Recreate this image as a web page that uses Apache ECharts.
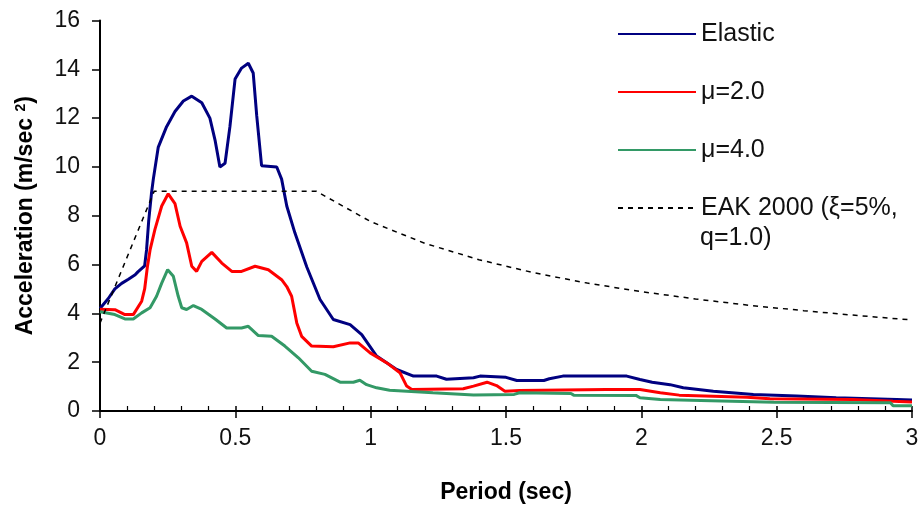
<!DOCTYPE html>
<html>
<head>
<meta charset="utf-8">
<script src="https://cdn.jsdelivr.net/npm/echarts@6/dist/echarts.min.js"></script>
<style>
  html, body { margin: 0; padding: 0; background: #fff; }
  #chart { width: 919px; height: 507px; }
</style>
</head>
<body>
<div id="chart"></div>
<script>
// period (s) / acceleration (m/sec2) pairs
var elastic = [
  [0, 4.2], [0.03, 4.6], [0.055, 5.0], [0.08, 5.23], [0.105, 5.4], [0.13, 5.58],
  [0.14, 5.7], [0.165, 5.95], [0.172, 6.6], [0.18, 7.8], [0.19, 8.9], [0.197, 9.5],
  [0.215, 10.8], [0.246, 11.65], [0.277, 12.27], [0.308, 12.7], [0.339, 12.9],
  [0.376, 12.63], [0.406, 12.0], [0.425, 11.1], [0.443, 10.0], [0.462, 10.15],
  [0.48, 11.65], [0.499, 13.6], [0.523, 14.05], [0.548, 14.25], [0.566, 13.85],
  [0.579, 12.1], [0.597, 10.05], [0.653, 10.0], [0.671, 9.5], [0.69, 8.4],
  [0.72, 7.3], [0.764, 5.9], [0.813, 4.57], [0.862, 3.75], [0.924, 3.54],
  [0.967, 3.13], [1.022, 2.25], [1.096, 1.7], [1.158, 1.43], [1.244, 1.43],
  [1.28, 1.3], [1.38, 1.36], [1.404, 1.43], [1.5, 1.38], [1.54, 1.25],
  [1.64, 1.25], [1.66, 1.32], [1.71, 1.43], [1.946, 1.43], [1.995, 1.29],
  [2.04, 1.18], [2.106, 1.08], [2.155, 0.95], [2.266, 0.81], [2.414, 0.68],
  [2.574, 0.61], [2.72, 0.54], [2.943, 0.47], [3.0, 0.45]
]
var mu2 = [
  [0, 4.17], [0.055, 4.15], [0.092, 3.95], [0.123, 3.95], [0.154, 4.5],
  [0.165, 5.0], [0.175, 5.9], [0.185, 6.6], [0.203, 7.44], [0.228, 8.4],
  [0.252, 8.9], [0.277, 8.5], [0.296, 7.57], [0.32, 6.89], [0.339, 5.93],
  [0.357, 5.72], [0.376, 6.13], [0.413, 6.5], [0.45, 6.06], [0.487, 5.72],
  [0.523, 5.72], [0.573, 5.93], [0.622, 5.79], [0.671, 5.38], [0.69, 5.1],
  [0.708, 4.7], [0.727, 3.61], [0.745, 3.06], [0.782, 2.66], [0.862, 2.63],
  [0.924, 2.79], [0.954, 2.79], [0.998, 2.38], [1.06, 1.97], [1.108, 1.57],
  [1.133, 1.02], [1.152, 0.88], [1.342, 0.91], [1.38, 1.02], [1.43, 1.18],
  [1.465, 1.04], [1.496, 0.81], [1.55, 0.84], [1.87, 0.88], [1.995, 0.88],
  [2.07, 0.75], [2.14, 0.65], [2.39, 0.56], [2.475, 0.5], [2.78, 0.47],
  [2.93, 0.4], [3.0, 0.37]
]
var mu4 = [
  [0, 4.07], [0.055, 3.95], [0.092, 3.77], [0.123, 3.77], [0.154, 4.02],
  [0.185, 4.23], [0.209, 4.7], [0.228, 5.24], [0.25, 5.79], [0.271, 5.52],
  [0.289, 4.7], [0.302, 4.23], [0.32, 4.16], [0.345, 4.32], [0.376, 4.16],
  [0.425, 3.77], [0.468, 3.4], [0.523, 3.4], [0.548, 3.47], [0.585, 3.09],
  [0.634, 3.06], [0.683, 2.66], [0.733, 2.18], [0.782, 1.63], [0.831, 1.5],
  [0.887, 1.18], [0.936, 1.18], [0.96, 1.26], [0.985, 1.08], [1.022, 0.95],
  [1.07, 0.85], [1.23, 0.75], [1.38, 0.66], [1.53, 0.68], [1.55, 0.75],
  [1.74, 0.72], [1.75, 0.65], [1.98, 0.64], [1.995, 0.54], [2.07, 0.47],
  [2.22, 0.43], [2.49, 0.36], [2.92, 0.34], [2.93, 0.22], [3.0, 0.22]
]
var eak = [
  [0, 3.6], [0.2, 9.0], [0.8, 9.0], [1.0, 7.76], [1.2, 6.87], [1.4, 6.2],
  [1.6, 5.67], [1.8, 5.24], [2.0, 4.89], [2.2, 4.59], [2.4, 4.33],
  [2.6, 4.11], [2.8, 3.91], [3.0, 3.73]
]
var seriesNames = ['Elastic', 'μ=2.0', 'μ=4.0', 'EAK 2000 (ξ=5%, q=1.0)']

var chart = echarts.init(document.getElementById('chart'))
var font = 'Liberation Sans, Arial, sans-serif'

var option = {
  animation: false,
  textStyle: { fontFamily: font },
  grid: { left: 100, right: 7, top: 20.5, bottom: 96, outerBoundsMode: 'none' },
  legend: {
    orient: 'vertical',
    left: 612,
    top: 14,
    itemWidth: 78,
    itemHeight: 14,
    itemGap: 28,
    data: seriesNames,
    itemStyle: { opacity: 0 },
    formatter: function (name) {
      // second line of the EAK label is drawn below as a graphic
      return name.indexOf('EAK') === 0 ? 'EAK 2000 (ξ=5%,' : name
    },
    textStyle: { fontSize: 25, color: '#111', lineHeight: 30, fontFamily: font }
  },
  graphic: [{
    type: 'text',
    left: 700,
    top: 226,
    style: { text: 'q=1.0)', fontSize: 25, fill: '#111', fontFamily: font }
  }],
  xAxis: [{
    type: 'value',
    min: 0,
    max: 3,
    interval: 0.5,
    name: 'Period (sec)',
    nameLocation: 'middle',
    nameGap: 70,
    nameTextStyle: { fontSize: 23, fontWeight: 'bold', color: '#000' },
    axisLine: { lineStyle: { color: '#000', width: 2 } },
    axisTick: { show: true, length: 7, lineStyle: { color: '#000', width: 1.5 } },
    axisLabel: { fontSize: 23, color: '#111', margin: 16 },
    splitLine: { show: false }
  }, {
    // inner tick marks (majors cross the axis, minors only inside)
    type: 'value',
    position: 'bottom',
    min: 0,
    max: 3,
    interval: 0.5,
    axisLine: { show: false },
    axisTick: { show: true, inside: true, length: 5, lineStyle: { color: '#000', width: 1.5 } },
    minorTick: { show: true, splitNumber: 5, length: 5, lineStyle: { color: '#000', width: 1.2 } },
    axisLabel: { show: false },
    splitLine: { show: false }
  }],
  yAxis: {
    type: 'value',
    min: 0,
    max: 16,
    interval: 2,
    name: '{a|Acceleration (m/sec }{s|2}{a|)}',
    nameLocation: 'middle',
    nameGap: 62,
    nameTextStyle: {
      rich: {
        a: { fontSize: 23, fontWeight: 'bold', color: '#000', fontFamily: font },
        s: { fontSize: 14, fontWeight: 'bold', color: '#000', fontFamily: font, verticalAlign: 'top', padding: [0, 0, 10, 0] }
      }
    },
    axisLine: { show: true, lineStyle: { color: '#000', width: 2 } },
    axisTick: { show: true, length: 8, lineStyle: { color: '#000', width: 1.5 } },
    axisLabel: { fontSize: 23, color: '#111', margin: 20 },
    splitLine: { show: false }
  },
  series: [
    {
      name: seriesNames[0], type: 'line', data: elastic, symbol: 'none',
      lineStyle: { color: '#000080', width: 3 }, itemStyle: { color: '#000080' }
    },
    {
      name: seriesNames[1], type: 'line', data: mu2, symbol: 'none',
      lineStyle: { color: '#ff0000', width: 3 }, itemStyle: { color: '#ff0000' }
    },
    {
      name: seriesNames[2], type: 'line', data: mu4, symbol: 'none',
      lineStyle: { color: '#339966', width: 3 }, itemStyle: { color: '#339966' }
    },
    {
      name: seriesNames[3], type: 'line', data: eak, symbol: 'none',
      lineStyle: { color: '#000', width: 1.5, type: [5, 5] }, itemStyle: { color: '#000' }
    }
  ]
}
chart.setOption(option)
</script>
</body>
</html>
